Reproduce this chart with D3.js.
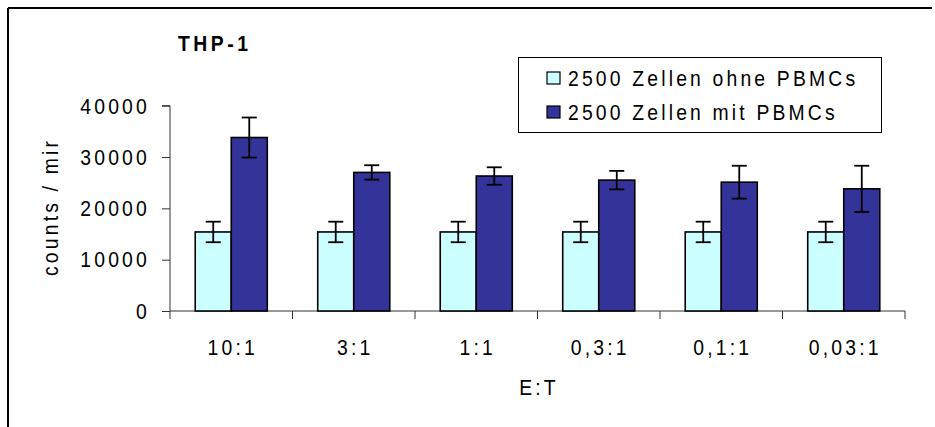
<!DOCTYPE html>
<html>
<head>
<meta charset="utf-8">
<script src="https://cdn.jsdelivr.net/npm/d3@7/dist/d3.min.js"></script>
<style>
  html, body { margin: 0; padding: 0; background: #fff; }
  svg text { font-family: Arial, "Liberation Sans", sans-serif; fill: #000; }
</style>
</head>
<body>
<svg id="chart" width="935" height="427"></svg>
<script>
const categories = ["10:1", "3:1", "1:1", "0,3:1", "0,1:1", "0,03:1"];
const seriesNames = ["2500 Zellen ohne PBMCs", "2500 Zellen mit PBMCs"];
const ohneValues = [15400, 15400, 15400, 15400, 15400, 15400];
const ohneErrors = [2000, 2000, 2000, 2000, 2000, 2000];
const mitValues = [33800, 27000, 26300, 25500, 25100, 23800];
const mitErrors = [3900, 1400, 1700, 1800, 3200, 4500];
const yTicks = [0, 10000, 20000, 30000, 40000];
const colors = ["#CCFFFF", "#333399"];

(function () {
const svg = d3.select("#chart");
const FS = 22, SX = 0.88, LS = 3.6;

function label(parent, x, y, txt, anchor, opts) {
  opts = opts || {};
  const rot = opts.rotate ? ` rotate(${opts.rotate})` : "";
  const t = parent.append("text")
    .attr("transform", `translate(${x},${y})${rot} scale(${SX},1)`)
    .attr("text-anchor", anchor || "start")
    .style("font-size", FS + "px")
    .style("letter-spacing", (opts.ls != null ? opts.ls : LS) + "px")
    .text(txt);
  if (opts.bold) t.style("font-weight", "bold");
  return t;
}

// outer frame (top and left visible)
svg.append("line").attr("x1", 8).attr("y1", 8).attr("x2", 932).attr("y2", 8)
  .attr("stroke", "#000").attr("stroke-width", 2);
svg.append("line").attr("x1", 8).attr("y1", 8).attr("x2", 8).attr("y2", 427)
  .attr("stroke", "#000").attr("stroke-width", 2);

const pL = 170, pR = 905, pT = 105.7, pB = 311;
const y = d3.scaleLinear().domain([0, 40000]).range([pB, pT]);
const x0 = d3.scaleBand().domain(categories).range([pL, pR]).padding(0);
const x1 = d3.scaleBand().domain([0, 1]).range([0, x0.bandwidth()]).paddingInner(0).paddingOuter(0.70);

// y axis
const yAxis = svg.append("g").attr("transform", `translate(${pL},0)`)
  .call(d3.axisLeft(y).tickValues(yTicks).tickSize(8).tickFormat(""));
yAxis.select(".domain").attr("stroke", "#333").attr("d", `M-8,${pT}H0V${pB}`);
yAxis.selectAll(".tick line").attr("stroke", "#333");
yTicks.forEach(v => {
  label(svg, pL - 20, y(v) + 7.8, d3.format("d")(v), "end");
});

// x axis with ticks at band boundaries
const xg = svg.append("g").attr("transform", `translate(0,${pB})`);
xg.append("line").attr("x1", pL).attr("x2", pR).attr("y1", 0).attr("y2", 0).attr("stroke", "#333");
const bounds = categories.map(c => x0(c)).concat([pR]);
xg.selectAll("line.tk").data(bounds).enter().append("line").attr("class", "tk")
  .attr("x1", d => d).attr("x2", d => d).attr("y1", 0).attr("y2", 8).attr("stroke", "#333");
categories.forEach(c => {
  label(svg, x0(c) + x0.bandwidth() / 2 + 1.5, 354.5, c, "middle");
});

// bars
const series = [
  { vals: ohneValues, errs: ohneErrors },
  { vals: mitValues, errs: mitErrors }
];
series.forEach((s, si) => {
  const g = svg.append("g");
  g.selectAll("rect").data(categories).enter().append("rect")
    .attr("x", c => x0(c) + x1(si))
    .attr("y", (c, i) => y(s.vals[i]))
    .attr("width", x1.bandwidth())
    .attr("height", (c, i) => y(0) - y(s.vals[i]))
    .attr("fill", colors[si]).attr("stroke", "#000").attr("stroke-width", 1.6);
});
// error bars
series.forEach((s, si) => {
  const g = svg.append("g").attr("stroke", "#000").attr("stroke-width", 1.8);
  categories.forEach((c, i) => {
    const cx = x0(c) + x1(si) + x1.bandwidth() / 2;
    const hi = y(s.vals[i] + s.errs[i]), lo = y(s.vals[i] - s.errs[i]);
    g.append("line").attr("x1", cx).attr("x2", cx).attr("y1", hi).attr("y2", lo);
    g.append("line").attr("x1", cx - 7.5).attr("x2", cx + 7.5).attr("y1", hi).attr("y2", hi);
    g.append("line").attr("x1", cx - 7.5).attr("x2", cx + 7.5).attr("y1", lo).attr("y2", lo);
  });
});

// titles
label(svg, 178, 51, "THP-1", "start", { bold: true, ls: 4 });
label(svg, 58, 207, "counts / mir", "middle", { rotate: -90 });
label(svg, (pL + pR) / 2 + 1.5, 395, "E:T", "middle");

// legend
const lg = svg.append("g");
lg.append("rect").attr("x", 518.5).attr("y", 57.5).attr("width", 363).attr("height", 75)
  .attr("fill", "#fff").attr("stroke", "#000").attr("stroke-width", 1);
seriesNames.forEach((n, i) => {
  const yy = 72 + i * 34;
  lg.append("rect").attr("x", 547).attr("y", yy).attr("width", 13).attr("height", 12)
    .attr("fill", colors[i]).attr("stroke", "#000").attr("stroke-width", 1.2);
  label(lg, 568, yy + 14, n, "start");
});
})();
</script>
</body>
</html>
